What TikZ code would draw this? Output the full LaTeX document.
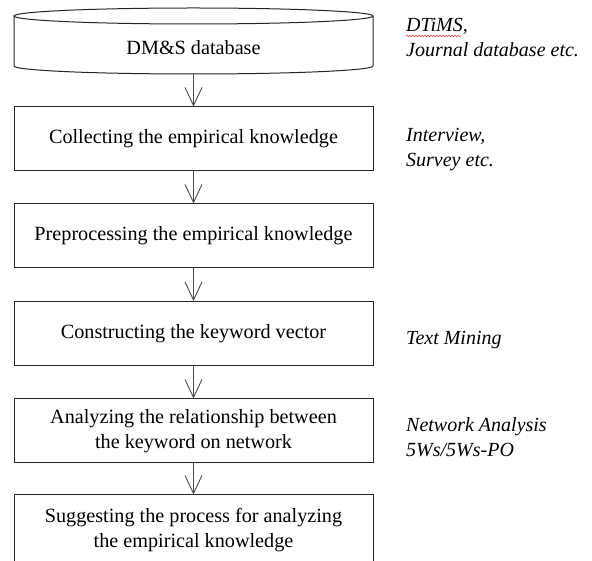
\documentclass[tikz,border=0pt]{standalone}
\usepackage{fontspec}
\setmainfont{Liberation Serif}
\usetikzlibrary{arrows.meta,decorations.pathmorphing}

\tikzset{
  x=1pt, y=1pt,
  outline/.style={draw=black!85, line width=1pt},
  stepbox/.style={outline, rectangle, minimum width=359pt, minimum height=64pt,
    align=center, inner sep=0pt, font=\fontsize{20.2}{25}\selectfont},
  flow/.style={draw=black!70, line width=0.9pt,
    -{Straight Barb[length=18pt,width=17pt,line width=0.9pt]}},
  note/.style={anchor=base west, align=left, inner sep=0pt,
    font=\fontsize{20}{25}\selectfont\itshape},
}

\begin{document}
\begin{tikzpicture}
  \clip (0,0) rectangle (592,560);
  \fill[white] (0,0) rectangle (592,560);

  % database cylinder
  \draw[outline] (193.5,544) ellipse [x radius=179.5, y radius=8];
  \draw[outline] (14,544) -- (14,494) arc [start angle=180, end angle=360,
    x radius=179.5, y radius=8] -- (373,544);
  \node[font=\fontsize{20.2}{25}\selectfont] (db) at (193.5,512) {DM\&S database};
  \coordinate (dbbottom) at (193.5,486);

  % process steps
  \node[stepbox] (collect) at (193.5,421) {Collecting the empirical knowledge};
  \node[stepbox] (prep) at (193.5,324) {Preprocessing the empirical knowledge};
  \node[stepbox] (vector) at (193.5,226.5) {Constructing the keyword vector};
  \node[stepbox] (analyze) at (193.5,129)
    {Analyzing the relationship between\\the keyword on network};
  \node[stepbox, minimum height=70pt] (suggest) at (193.5,30)
    {Suggesting the process for analyzing\\the empirical knowledge};

  % connectors
  \draw[flow] (dbbottom) -- (collect.north);
  \draw[flow] (collect.south) -- (prep.north);
  \draw[flow] (prep.south) -- (vector.north);
  \draw[flow] (vector.south) -- (analyze.north);
  \draw[flow] (analyze.south) -- (suggest.north);

  % side notes (base anchor sits on the last line)
  \node[note] (n1) at (406,503) {DTiMS,\\Journal database etc.};
  \draw[red!80, line width=0.5pt, decorate,
    decoration={snake, amplitude=0.8pt, segment length=3pt}]
    (406,524) -- ++(55,0);
  \node[note] (n2) at (406,393) {Interview,\\Survey etc.};
  \node[note] (n3) at (406,215) {Text Mining};
  \node[note] (n4) at (406,103) {Network Analysis\\5Ws/5Ws-PO};
\end{tikzpicture}
\end{document}
